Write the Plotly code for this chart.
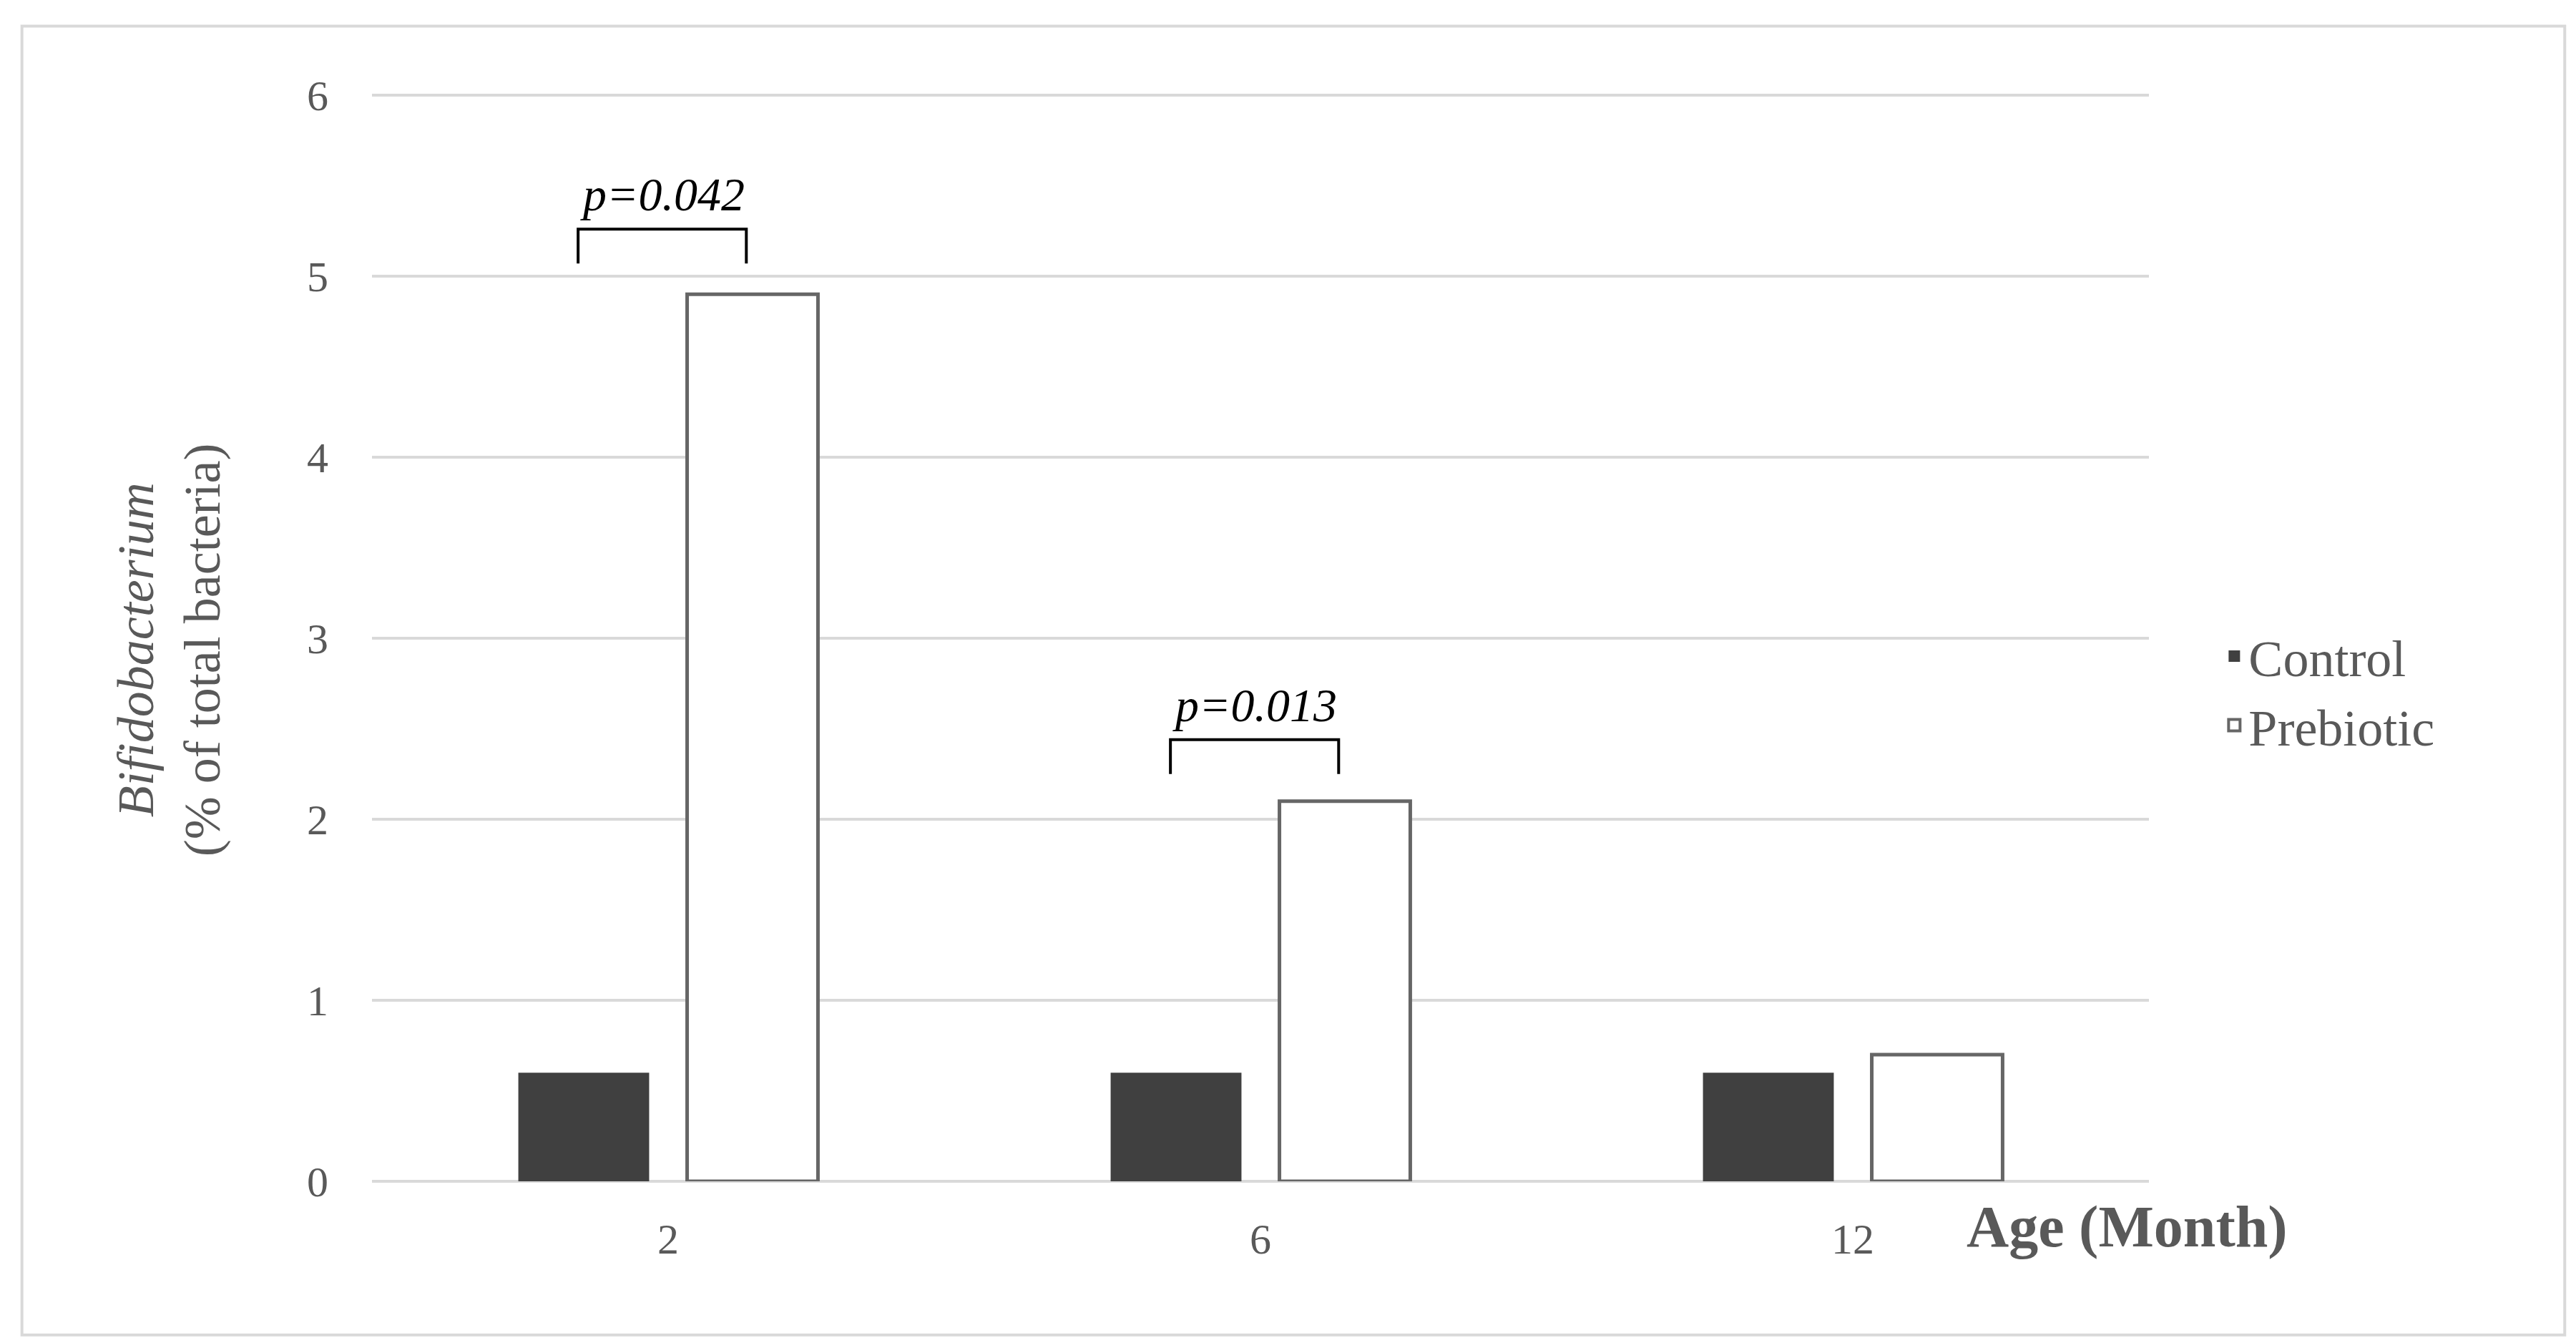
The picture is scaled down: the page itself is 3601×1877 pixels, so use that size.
import plotly.graph_objects as go

ages = ["2", "6", "12"]
control = [0.6, 0.6, 0.6]
prebiotic = [4.9, 2.1, 0.7]
y_ticks = [0, 1, 2, 3, 4, 5, 6]
sig_labels = ["p=0.042", "p=0.013"]
sig_cats = [0, 1]
sig_heights = [5.26, 2.44]

GREY = "#595959"
SERIF = "Liberation Serif, DejaVu Serif, serif"

fig = go.Figure()
fig.add_bar(x=ages, y=control, name="Control", showlegend=False,
            marker=dict(color="#404040", line=dict(color="#404040", width=0)))
fig.add_bar(x=ages, y=prebiotic, name="Prebiotic", showlegend=False,
            marker=dict(color="white", line=dict(color="#666666", width=5)))
fig.add_scatter(x=[None], y=[None], mode="markers", name="Control",
                marker=dict(symbol="square", size=40, color="#404040"))
fig.add_scatter(x=[None], y=[None], mode="markers", name="Prebiotic",
                marker=dict(symbol="square", size=40, color="white", line=dict(color="#666666", width=4)))

off = 0.142
for cat, h, lab in zip(sig_cats, sig_heights, sig_labels):
    fig.add_shape(type="path", xref="x", yref="y",
                  path=f"M {cat-off-0.01},{h-0.19} L {cat-off-0.01},{h} L {cat+off-0.01},{h} L {cat+off-0.01},{h-0.19}",
                  line=dict(color="black", width=4))
    fig.add_annotation(x=cat-0.01, y=h+0.04, xref="x", yref="y", text=f"<i>{lab}</i>",
                       showarrow=False, yanchor="bottom", font=dict(family=SERIF, size=66, color="black"))

fig.add_annotation(xref="paper", yref="paper", x=-0.15, y=0.488, textangle=-90,
                   text="<i>Bifidobacterium</i><br>(% of total bacteria)", showarrow=False,
                   font=dict(family=SERIF, size=72, color=GREY))
fig.add_annotation(xref="paper", yref="paper", x=1.079, y=-0.073, text="<b>Age (Month)</b>",
                   showarrow=False, font=dict(family=SERIF, size=82, color=GREY))
fig.add_shape(type="rect", xref="paper", yref="paper", x0=-0.197, x1=1.234, y0=-0.141, y1=1.060,
              line=dict(color="#d9d9d9", width=4), layer="below")

fig.update_layout(
    width=3601, height=1877,
    margin=dict(l=512, r=605, t=120, b=234),
    paper_bgcolor="white", plot_bgcolor="white",
    barmode="group", bargap=0.43, bargroupgap=0.225,
    font=dict(family=SERIF, color=GREY),
    legend=dict(x=1.04, y=0.45, yanchor="middle", xanchor="left",
                font=dict(family=SERIF, size=72, color=GREY), tracegroupgap=40),
)
fig.update_xaxes(showgrid=False, showline=False, tickfont=dict(family=SERIF, size=60, color=GREY),
                 ticklabelstandoff=40)
fig.update_yaxes(range=[0, 6.02], tickvals=y_ticks, showgrid=True, gridcolor="#d9d9d9", gridwidth=4,
                 zeroline=True, zerolinecolor="#d9d9d9", zerolinewidth=4, showline=False,
                 tickfont=dict(family=SERIF, size=60, color=GREY), ticklabelstandoff=60)

fig.write_html("out.html")
